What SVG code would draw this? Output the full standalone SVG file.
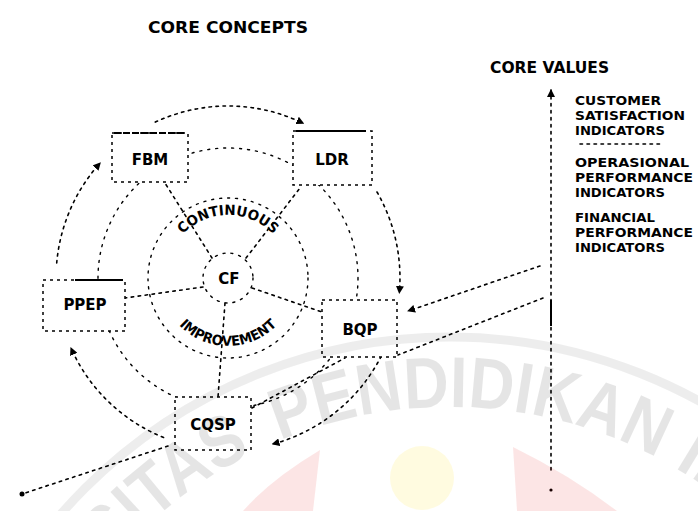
<svg xmlns="http://www.w3.org/2000/svg" width="698" height="511" viewBox="0 0 698 511">
<style>
.ln{fill:none;stroke:#000;stroke-width:1.6;stroke-dasharray:2.5 4.5;stroke-linecap:round}
.ring{fill:none;stroke:#000;stroke-width:1.4;stroke-dasharray:2 6;stroke-linecap:round}
.bx{fill:#fff;stroke:#000;stroke-width:1.5;stroke-dasharray:3 4}
.solid{stroke:#000;stroke-width:2;fill:none}
.t{font-family:"DejaVu Sans","Liberation Sans",sans-serif;font-weight:bold;fill:#000}
.lbl{font-size:15px;text-anchor:middle}
.val{font-size:13px}
.wm{font-family:"Liberation Sans",Arial,sans-serif;font-weight:bold;font-size:72px;fill:#000;fill-opacity:0.1}
</style>
<defs>
<marker id="arr" viewBox="0 0 8 8" refX="7" refY="4" markerWidth="8" markerHeight="8" markerUnits="userSpaceOnUse" orient="auto"><path d="M0,0 L8,4 L0,8 z" fill="#000"/></marker>
<marker id="dot" viewBox="0 0 6 6" refX="3" refY="3" markerWidth="6" markerHeight="6" markerUnits="userSpaceOnUse"><circle cx="3" cy="3" r="2.5" fill="#000"/></marker>
<path id="arcTop" d="M165,278 A63,63 0 0 1 291,278"/>
<path id="arcBot" d="M160,278 A68,68 0 0 0 296,278"/>
<path id="wmArc" d="M4,853 A446,446 0 0 1 896,853"/>
</defs>
<rect width="698" height="511" fill="#fff"/>

<text class="t" x="148" y="33" font-size="16" textLength="160" lengthAdjust="spacingAndGlyphs">CORE CONCEPTS</text>
<text class="t" x="490" y="73" font-size="15.5">CORE VALUES</text>

<g id="connectors">
  <circle class="ring" cx="228" cy="278" r="130"/>
  <circle class="ring" cx="228" cy="278" r="80"/>
  <circle class="ring" cx="228" cy="278" r="25"/>
  <path class="ln" d="M212,258 L165,183"/>
  <path class="ln" d="M246,258 L300,188"/>
  <path class="ln" d="M203,287 L125,298"/>
  <path class="ln" d="M252,288 L322,312"/>
  <path class="ln" d="M225,303 L218,397"/>
  <path class="ln" d="M56.7,263 A172,172 0 0 1 100.2,162.9" marker-end="url(#arr)"/>
  <path class="ln" d="M155.3,122.1 A172,172 0 0 1 303.4,123.4" marker-end="url(#arr)"/>
  <path class="ln" d="M377,192 A172,172 0 0 1 399.3,293" marker-end="url(#arr)"/>
  <path class="ln" d="M381.3,356.1 A172,172 0 0 1 272.5,444.1" marker-end="url(#arr)"/>
  <path class="ln" d="M163.6,437.5 A172,172 0 0 1 70.9,348" marker-end="url(#arr)"/>
  <path class="ln" d="M168,446 L22,494" marker-end="url(#dot)"/>
  <path class="ln" d="M252,408 L345,358"/>
  <path class="ln" d="M540,266 L408,311" marker-end="url(#arr)"/>
  <path class="ln" d="M543,298 L398,355"/>
  <path class="ln" d="M551,470 L551,90" marker-end="url(#arr)"/>
  <path class="solid" d="M551,300 L551,326" stroke-width="1.8"/>
  <circle cx="551" cy="490" r="1.6" fill="#000"/>
  <path class="ln" d="M580,144 L660,144"/>
</g>

<g id="FBM">
  <rect class="bx" x="112" y="133" width="76" height="49"/>
  <path class="solid" d="M114,133 L186,133" stroke-dasharray="7 2" stroke-width="1.8"/>
  <text class="t lbl" x="150" y="165">FBM</text>
</g>
<g id="LDR">
  <rect class="bx" x="293" y="131" width="79" height="54"/>
  <path class="solid" d="M296,131 L366,131"/>
  <text class="t lbl" x="332" y="165">LDR</text>
</g>
<g id="PPEP">
  <rect class="bx" x="43" y="280" width="82" height="51"/>
  <path class="solid" d="M75,280 L123,280"/>
  <text class="t lbl" x="85" y="310">PPEP</text>
</g>
<g id="BQP">
  <rect class="bx" x="322" y="300" width="75" height="57"/>
  <text class="t lbl" x="360" y="335">BQP</text>
</g>
<g id="CQSP">
  <rect class="bx" x="175" y="397" width="76" height="53"/>
  <text class="t lbl" x="213" y="430">CQSP</text>
</g>
<g id="CF">
  <text class="t lbl" x="229" y="284">CF</text>
  <text class="t" font-size="14" text-anchor="middle"><textPath href="#arcTop" startOffset="50%" textLength="101" lengthAdjust="spacingAndGlyphs">CONTINUOUS</textPath></text>
  <text class="t" font-size="14" text-anchor="middle"><textPath href="#arcBot" startOffset="50%" textLength="109" lengthAdjust="spacingAndGlyphs">IMPROVEMENT</textPath></text>
</g>

<g id="values">
  <text class="t val" x="575" y="105" textLength="86" lengthAdjust="spacingAndGlyphs">CUSTOMER</text>
  <text class="t val" x="575" y="120" textLength="110" lengthAdjust="spacingAndGlyphs">SATISFACTION</text>
  <text class="t val" x="575" y="135" textLength="90" lengthAdjust="spacingAndGlyphs">INDICATORS</text>
  <text class="t val" x="575" y="167" textLength="114" lengthAdjust="spacingAndGlyphs">OPERASIONAL</text>
  <text class="t val" x="575" y="182" textLength="118" lengthAdjust="spacingAndGlyphs">PERFORMANCE</text>
  <text class="t val" x="575" y="197" textLength="90" lengthAdjust="spacingAndGlyphs">INDICATORS</text>
  <text class="t val" x="575" y="222" textLength="80" lengthAdjust="spacingAndGlyphs">FINANCIAL</text>
  <text class="t val" x="575" y="237" textLength="118" lengthAdjust="spacingAndGlyphs">PERFORMANCE</text>
  <text class="t val" x="575" y="252" textLength="90" lengthAdjust="spacingAndGlyphs">INDICATORS</text>
</g>

<g id="watermark">
  <circle cx="450" cy="853" r="516" fill="none" stroke="#000" stroke-opacity="0.07" stroke-width="9"/>
  <text class="wm"><textPath href="#wmArc" startOffset="85" textLength="410" lengthAdjust="spacingAndGlyphs">UNIVERSITAS</textPath></text>
  <text class="wm"><textPath href="#wmArc" startOffset="526" textLength="390" lengthAdjust="spacingAndGlyphs">PENDIDIKAN</textPath></text>
  <text class="wm"><textPath href="#wmArc" startOffset="935" textLength="360" lengthAdjust="spacingAndGlyphs">INDONESIA</textPath></text>
  <path d="M320,450 Q270,480 243,511 L313,511 Z" fill="#e00000" fill-opacity="0.1"/>
  <path d="M513,447 Q570,475 617,511 L517,511 Z" fill="#e00000" fill-opacity="0.1"/>
  <circle cx="422" cy="478" r="32" fill="#ffe000" fill-opacity="0.12"/>
</g>
</svg>
